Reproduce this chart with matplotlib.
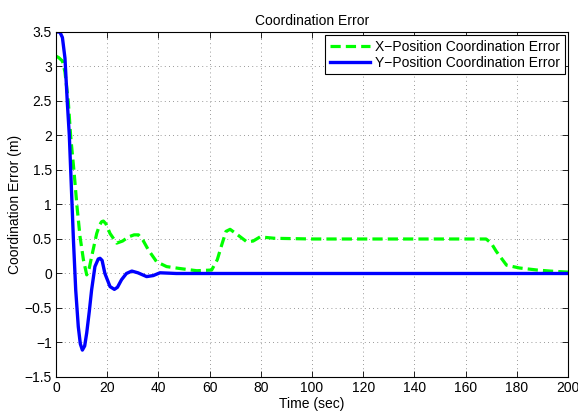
"""
Coordination error plot (X and Y position) recreated with matplotlib.
"""
import matplotlib
matplotlib.use("Agg")
import matplotlib.pyplot as plt

# Data
t_x = [0, 1, 2.5, 3.5, 4.8, 5.7, 7.1, 8.2, 9.4, 10.7, 12, 13.0, 13.9, 15.9,
       17.0, 17.8, 18.5, 19.5, 21.1, 23.7, 26, 28.3, 30.5, 32.2, 34, 36.1,
       39.3, 43.2, 47.8, 55, 60.8, 63, 64.7, 66.4, 68, 70.6, 74.5, 77, 79.7,
       85.5, 100, 168, 170, 172, 176, 181, 188, 193, 200]
err_x = [3.15, 3.13, 3.08, 2.92, 2.49, 2.0, 1.45, 0.97, 0.53, 0.2, -0.02, 0.08,
         0.24, 0.58, 0.70, 0.75, 0.76, 0.72, 0.58, 0.44, 0.47, 0.53, 0.56, 0.56,
         0.48, 0.34, 0.17, 0.1, 0.075, 0.04, 0.05, 0.2, 0.41, 0.61, 0.64, 0.57,
         0.46, 0.47, 0.53, 0.51, 0.5, 0.5, 0.44, 0.32, 0.12, 0.08, 0.05, 0.035,
         0.02]

t_y = [0, 1.5, 2.5, 3.5, 4.4, 5.2, 6.0, 6.8, 7.7, 8.7, 9.5, 10.3, 11.2, 12,
       13, 13.9, 15.2, 16.5, 17.2, 18, 19.1, 21.1, 22.8, 24, 25.6, 27.5, 29.6,
       32, 35.4, 38, 40.6, 44, 47, 200]
err_y = [3.5, 3.5, 3.42, 3.12, 2.49, 2.0, 1.25, 0.49, -0.24, -0.77, -1.02,
         -1.11, -1.05, -0.86, -0.55, -0.24, 0.1, 0.21, 0.22, 0.19, 0.0, -0.19,
         -0.23, -0.2, -0.09, 0.0, 0.035, 0.01, -0.045, -0.03, 0.01, 0.005, 0.0,
         0.0]

x_ticks = list(range(0, 201, 20))
y_ticks = [-1.5, -1, -0.5, 0, 0.5, 1, 1.5, 2, 2.5, 3, 3.5]
y_tick_labels = ["\u22121.5", "\u22121", "\u22120.5", "0", "0.5", "1", "1.5",
                 "2", "2.5", "3", "3.5"]

plt.rcParams['font.family'] = ['Liberation Sans', 'DejaVu Sans']
plt.rcParams['font.size'] = 10

fig = plt.figure(figsize=(5.78, 4.15), dpi=100)
ax = fig.add_axes([0.0969, 0.0916, 0.8858, 0.8313])

ax.plot(t_x, err_x, color='#00ff00', lw=2.3, dashes=(3.2, 1.6),
        label='X\u2212Position Coordination Error')
ax.plot(t_y, err_y, color='#0000ff', lw=2.4,
        label='Y\u2212Position Coordination Error')

ax.set_xlim(0, 200)
ax.set_ylim(-1.5, 3.5)
ax.set_xticks(x_ticks)
ax.set_yticks(y_ticks)
ax.set_yticklabels(y_tick_labels)
ax.tick_params(direction='in', top=True, right=True, length=4, width=0.6,
               labelsize=10, pad=3)
ax.grid(True, linestyle=(0, (1, 4)), color='#777777', lw=0.6)
for sp in ax.spines.values():
    sp.set_linewidth(0.8)

ax.set_title('Coordination Error', fontsize=10, pad=5)
ax.set_xlabel('Time (sec)', labelpad=1)
ax.set_ylabel('Coordination Error (m)', labelpad=2)

leg = ax.legend(loc='upper right', fancybox=False, edgecolor='black',
                framealpha=1, handlelength=2.9, borderaxespad=0.25,
                borderpad=0.3, labelspacing=0.15, handletextpad=0.4)
leg.get_frame().set_linewidth(0.8)

fig.savefig('out.png', dpi=100)
